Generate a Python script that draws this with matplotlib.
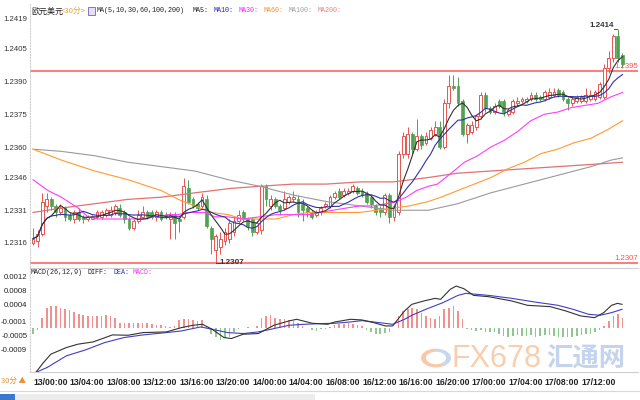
import numpy as np
import pandas as pd
import matplotlib
matplotlib.use("Agg")
import matplotlib.pyplot as plt
from matplotlib.patches import Rectangle, Wedge

plt.rcParams['font.family'] = ['Noto Sans CJK SC', 'DejaVu Sans']

# 30分钟K线 (欧元美元)
opens = [1.2316, 1.2317, 1.2320, 1.2333, 1.2336, 1.2333, 1.2330, 1.2332, 1.2329, 1.2327,
         1.2330, 1.2328, 1.2327, 1.2327, 1.2328, 1.2328, 1.2329, 1.2329, 1.2330, 1.2332,
         1.2330, 1.2327, 1.2323, 1.2326, 1.2328, 1.2330, 1.2330, 1.2328, 1.2330, 1.2329,
         1.2327, 1.2329, 1.2327, 1.2328, 1.2341, 1.2336, 1.2334, 1.2333, 1.2336, 1.2323,
         1.2313, 1.2314, 1.2317, 1.2318, 1.2321, 1.2326, 1.2330, 1.2327, 1.2327, 1.2321,
         1.2322, 1.2342, 1.2333, 1.2336, 1.2333, 1.2332, 1.2335, 1.2336, 1.2336, 1.2334,
         1.2332, 1.2330, 1.2329, 1.2330, 1.2333, 1.2333, 1.2337, 1.2340, 1.2338, 1.2339,
         1.2340, 1.2341, 1.2340, 1.2339, 1.2337, 1.2333, 1.2332, 1.2330, 1.2338, 1.2328,
         1.2330, 1.2357, 1.2357, 1.2366, 1.2359, 1.2365, 1.2362, 1.2364, 1.2366, 1.2369,
         1.2360, 1.2380, 1.2388, 1.2388, 1.2381, 1.2366, 1.2367, 1.2369, 1.2374, 1.2384,
         1.2378, 1.2376, 1.2381, 1.2381, 1.2375, 1.2376, 1.2380, 1.2381, 1.2381, 1.2382,
         1.2384, 1.2383, 1.2382, 1.2383, 1.2384, 1.2386, 1.2385, 1.2382, 1.2380, 1.2381,
         1.2381, 1.2381, 1.2382, 1.2382, 1.2383, 1.2383, 1.2396, 1.2401, 1.2411, 1.2402]
highs = [1.2323, 1.2322, 1.2339, 1.2339, 1.2337, 1.2334, 1.2334, 1.2333, 1.2330, 1.2331,
         1.2332, 1.2329, 1.2329, 1.2329, 1.2331, 1.2331, 1.2332, 1.2333, 1.2334, 1.2334,
         1.2331, 1.2328, 1.2327, 1.2331, 1.2333, 1.2331, 1.2331, 1.2331, 1.2331, 1.2330,
         1.2330, 1.2330, 1.2328, 1.2346, 1.2345, 1.2337, 1.2335, 1.2339, 1.2338, 1.2324,
         1.2320, 1.2321, 1.2323, 1.2327, 1.2328, 1.2331, 1.2331, 1.2328, 1.2328, 1.2326,
         1.2343, 1.2343, 1.2338, 1.2337, 1.2334, 1.2340, 1.2338, 1.2340, 1.2338, 1.2336,
         1.2333, 1.2331, 1.2331, 1.2333, 1.2335, 1.2338, 1.2340, 1.2341, 1.2341, 1.2341,
         1.2343, 1.2342, 1.2341, 1.2340, 1.2338, 1.2334, 1.2333, 1.2339, 1.2339, 1.2334,
         1.2358, 1.2367, 1.2369, 1.2367, 1.2373, 1.2366, 1.2367, 1.2369, 1.2372, 1.2372,
         1.2382, 1.2393, 1.2393, 1.2392, 1.2382, 1.2371, 1.2372, 1.2375, 1.2385, 1.2385,
         1.2379, 1.2380, 1.2382, 1.2382, 1.2378, 1.2382, 1.2383, 1.2383, 1.2383, 1.2385,
         1.2385, 1.2384, 1.2386, 1.2387, 1.2387, 1.2387, 1.2386, 1.2383, 1.2383, 1.2384,
         1.2384, 1.2387, 1.2386, 1.2386, 1.2390, 1.2398, 1.2404, 1.2412, 1.2414, 1.2403]
lows = [1.2315, 1.2314, 1.2319, 1.2330, 1.2331, 1.2328, 1.2329, 1.2326, 1.2326, 1.2325,
        1.2326, 1.2325, 1.2326, 1.2327, 1.2327, 1.2327, 1.2328, 1.2328, 1.2329, 1.2328,
        1.2325, 1.2322, 1.2322, 1.2325, 1.2327, 1.2327, 1.2327, 1.2326, 1.2326, 1.2327,
        1.2318, 1.2318, 1.2321, 1.2327, 1.2334, 1.2332, 1.2331, 1.2332, 1.2323, 1.2311,
        1.2307, 1.2311, 1.2315, 1.2316, 1.2319, 1.2325, 1.2326, 1.2322, 1.2319, 1.2320,
        1.2320, 1.2333, 1.2331, 1.2332, 1.2329, 1.2331, 1.2334, 1.2335, 1.2328, 1.2326,
        1.2328, 1.2327, 1.2328, 1.2329, 1.2332, 1.2332, 1.2336, 1.2336, 1.2337, 1.2338,
        1.2339, 1.2338, 1.2337, 1.2334, 1.2332, 1.2329, 1.2328, 1.2329, 1.2325, 1.2326,
        1.2329, 1.2355, 1.2355, 1.2357, 1.2358, 1.2359, 1.2361, 1.2363, 1.2365, 1.2359,
        1.2359, 1.2378, 1.2386, 1.2379, 1.2365, 1.2362, 1.2366, 1.2368, 1.2373, 1.2376,
        1.2375, 1.2375, 1.2378, 1.2374, 1.2374, 1.2375, 1.2379, 1.2380, 1.2380, 1.2381,
        1.2381, 1.2381, 1.2381, 1.2382, 1.2383, 1.2383, 1.2381, 1.2377, 1.2379, 1.2380,
        1.2380, 1.2380, 1.2381, 1.2381, 1.2382, 1.2382, 1.2394, 1.2399, 1.2399, 1.2396]
closes = [1.2318, 1.2320, 1.2335, 1.2336, 1.2333, 1.2330, 1.2332, 1.2328, 1.2327, 1.2330,
          1.2327, 1.2327, 1.2328, 1.2328, 1.2330, 1.2330, 1.2331, 1.2331, 1.2333, 1.2329,
          1.2327, 1.2323, 1.2326, 1.2329, 1.2330, 1.2328, 1.2328, 1.2330, 1.2327, 1.2328,
          1.2329, 1.2325, 1.2326, 1.2342, 1.2335, 1.2333, 1.2332, 1.2337, 1.2324, 1.2318,
          1.2319, 1.2318, 1.2321, 1.2325, 1.2326, 1.2329, 1.2327, 1.2324, 1.2321, 1.2325,
          1.2342, 1.2336, 1.2336, 1.2333, 1.2331, 1.2336, 1.2337, 1.2337, 1.2330, 1.2331,
          1.2330, 1.2328, 1.2330, 1.2332, 1.2334, 1.2337, 1.2339, 1.2337, 1.2340, 1.2340,
          1.2342, 1.2339, 1.2338, 1.2335, 1.2334, 1.2330, 1.2330, 1.2338, 1.2328, 1.2333,
          1.2357, 1.2365, 1.2366, 1.2359, 1.2365, 1.2361, 1.2365, 1.2368, 1.2369, 1.2360,
          1.2380, 1.2388, 1.2387, 1.2380, 1.2366, 1.2370, 1.2370, 1.2374, 1.2384, 1.2378,
          1.2376, 1.2379, 1.2379, 1.2376, 1.2377, 1.2381, 1.2381, 1.2382, 1.2382, 1.2384,
          1.2382, 1.2382, 1.2385, 1.2385, 1.2385, 1.2384, 1.2382, 1.2380, 1.2382, 1.2383,
          1.2383, 1.2384, 1.2384, 1.2385, 1.2389, 1.2396, 1.2401, 1.2411, 1.2401, 1.2398]

# 长周期均线 (读图所得节点)
ma30_x = [0, 3.3, 6.2, 9.9, 12, 14.2, 17.9, 20.8, 24.5, 26.6, 29.6, 31.8, 33.9, 37.6, 39.8, 42.7,
          45.9, 49.6, 53.2, 56.9, 60.5, 62.8, 65.6, 68.5, 71.5, 74.4, 77.3, 79.5, 81.7, 83.9, 86.5,
          88.5, 91.5, 94.4, 97.3, 100.2, 103.1, 106, 108.9, 111.9, 114.8, 117.7, 120.6, 123.6, 126.5, 129]
ma30_y = [1.2345, 1.2340, 1.2337, 1.2332, 1.2328, 1.2327, 1.2327, 1.2327, 1.2327, 1.2328, 1.2329,
          1.2329, 1.2330, 1.2330, 1.2328, 1.2328, 1.2327, 1.2328, 1.2329, 1.2329, 1.2329, 1.2330,
          1.2331, 1.2332, 1.2333, 1.2333, 1.2334, 1.2335, 1.2337, 1.2340, 1.2342, 1.2343, 1.2348,
          1.2353, 1.2356, 1.2360, 1.2363, 1.2367, 1.2372, 1.2375, 1.2376, 1.2378, 1.2379, 1.2380,
          1.2383, 1.2385]
ma60_x = [0, 6.2, 13.5, 20.8, 28.1, 31.8, 35.4, 39.1, 42.7, 45.9, 49.6, 53.2, 56.9, 60.5, 64.2, 67.8,
          71.5, 75.1, 78.8, 82.4, 86.5, 89.3, 92.9, 96.6, 100.2, 103.9, 107.5, 111.2, 114.8, 118.5,
          122.1, 125.8, 129]
ma60_y = [1.2359, 1.2354, 1.2349, 1.2345, 1.2340, 1.2336, 1.2333, 1.2330, 1.2329, 1.2327, 1.2327,
          1.2327, 1.2329, 1.2330, 1.2330, 1.2330, 1.2330, 1.2331, 1.2332, 1.2333, 1.2335, 1.2337,
          1.2340, 1.2343, 1.2346, 1.2350, 1.2353, 1.2357, 1.2359, 1.2362, 1.2364, 1.2368, 1.2372]
ma100_x = [0, 6.2, 13.5, 20.8, 28.1, 35.4, 42.7, 49.6, 56.9, 64.2, 71.5, 78.8, 86.5, 92.9, 100.2,
           107.5, 114.8, 122.1, 126.5, 129]
ma100_y = [1.2359, 1.2358, 1.2356, 1.2353, 1.2351, 1.2349, 1.2345, 1.2342, 1.2338, 1.2335, 1.2333,
           1.2331, 1.2331, 1.2334, 1.2339, 1.2343, 1.2347, 1.2351, 1.2354, 1.2355]
ma200_x = [0, 6.2, 13.5, 20.8, 28.1, 35.4, 43.2, 49.6, 56.9, 64.2, 71.5, 78.8, 86.5, 92.9, 100.2,
           107.5, 114.8, 122.1, 129]
ma200_y = [1.2330, 1.2332, 1.2334, 1.2336, 1.2337, 1.2339, 1.2341, 1.2342, 1.2343, 1.2343, 1.2344,
           1.2344, 1.2346, 1.2348, 1.2349, 1.2350, 1.2351, 1.2352, 1.2353]

# MACD(26,12,9)
diff_x = [0.6, 2.3, 3.9, 7.3, 9.8, 13.2, 17.4, 20.8, 24.1, 29.2, 32.5, 35, 37.1, 39.2, 41.8, 43.4,
          46, 49.3, 52.7, 56, 57.7, 61.1, 64.5, 66.1, 69.5, 72, 74.5, 77.1, 78.7, 81.3, 82.9, 85.5,
          88, 89.2, 91.3, 92.6, 94.3, 96.4, 99.7, 104.8, 108.2, 113.2, 116.6, 119.9, 122.9, 124.9,
          126.6, 127.9, 128.9]
diff_y = [-0.001543, -0.001260, -0.001023, -0.000834, -0.000739, -0.000673, -0.000474, -0.000484,
          -0.000408, -0.000389, -0.000266, -0.000200, -0.000172, -0.000314, -0.000550, -0.000578,
          -0.000455, -0.000436, -0.000200, -0.000077, -0.000030, -0.000143, -0.000172, -0.000105,
          -0.000030, -0.000049, -0.000124, -0.000219, -0.000219, 0.000207, 0.000396, 0.000491,
          0.000566, 0.000538, 0.000822, 0.000916, 0.000841, 0.000651, 0.000614, 0.000491, 0.000368,
          0.000330, 0.000207, 0.000065, 0.000017, 0.000159, 0.000368, 0.000424, 0.000396]
dea_x = [0.6, 3.1, 7.3, 11.5, 15.7, 19.9, 24.1, 29.2, 32.5, 36.7, 39.2, 42.6, 46, 49.3, 52.7, 56,
         59.4, 62.8, 66.1, 69.5, 72, 74.5, 78.7, 81.3, 82.9, 86.3, 89.7, 93, 94.7, 99.7, 104.8,
         109.8, 114.9, 118.2, 121.6, 124.1, 126.6, 128.9]
dea_y = [-0.001543, -0.001401, -0.001070, -0.000900, -0.000692, -0.000550, -0.000474, -0.000408,
         -0.000361, -0.000247, -0.000314, -0.000408, -0.000436, -0.000389, -0.000295, -0.000200,
         -0.000172, -0.000153, -0.000143, -0.000105, -0.000068, -0.000105, -0.000172, -0.000030,
         0.000084, 0.000273, 0.000443, 0.000651, 0.000708, 0.000651, 0.000566, 0.000462, 0.000368,
         0.000254, 0.000112, 0.000084, 0.000159, 0.000254]
macd_hist = [-1.7, -0.5, 3.0, 5.9, 6.3, 6.3, 5.9, 5.4, 5.1, 4.6,
             4.0, 3.7, 3.5, 3.5, 3.5, 3.5, 3.7, 3.5, 3.0, 1.6,
             1.4, 1.6, 1.6, 1.6, 1.4, 1.4, 1.1, 0.9, 0.9, 0.7,
             0.5, 0.7, 2.4, 2.6, 2.6, 2.3, 2.1, 2.4, 0.7, -1.7,
             -2.6, -3.3, -2.9, -2.4, -1.2, -0.3, 0.2, 0.4, 0.2, 0.7,
             3.0, 3.5, 3.7, 3.0, 2.7, 2.6, 2.4, 2.1, 1.4, 0.7,
             0.1, -0.5, -0.7, -0.3, -0.3, 0.5, 0.9, 1.1, 1.3, 1.4,
             1.1, 0.9, 0.7, -0.5, -1.2, -1.7, -1.7, -1.4, -1.0, 0.2,
             3.5, 4.9, 5.6, 5.9, 5.4, 4.4, 3.5, 3.0, 2.6, 3.5,
             5.4, 5.9, 6.3, 4.9, 2.6, -0.1, -0.5, -0.9, -0.5, -1.0,
             -1.2, -1.2, -1.7, -2.2, -2.4, -2.2, -2.0, -2.2, -2.2, -2.0,
             -2.4, -2.2, -2.0, -2.0, -2.2, -2.4, -2.6, -2.6, -2.4, -2.2,
             -2.0, -1.7, -1.7, -1.2, -0.5, 0.7, 2.1, 3.5, 4.0, 3.0]  # x 1e-4
macd_base = -0.000285  # 柱状图零轴所在位置

time_labels = ['13/00:00', '13/04:00', '13/08:00', '13/12:00', '13/16:00', '13/20:00',
               '14/00:00', '14/04:00', '16/08:00', '16/12:00', '16/16:00', '16/20:00',
               '17/00:00', '17/04:00', '17/08:00', '17/12:00']
price_ticks = [1.2419, 1.2405, 1.2390, 1.2375, 1.2360, 1.2346, 1.2331, 1.2316]
macd_ticks = [0.0012, 0.0008, 0.0004, -0.0001, -0.0005, -0.0009]
last_price = 1.2395
low_price = 1.2307

UP = '#e8534f'
DOWN = '#52a052'
SANS = ['Liberation Sans', 'DejaVu Sans']
MONO = ['Liberation Mono', 'DejaVu Sans Mono']

W, H = 640, 400
fig = plt.figure(figsize=(6.4, 4.0), dpi=100)
ax = fig.add_axes([30 / W, 1 - 267 / H, 608 / W, 264 / H])
ax2 = fig.add_axes([30 / W, 1 - 372 / H, 608 / W, 104 / H])

o = np.array(opens); h = np.array(highs); l = np.array(lows); c = np.array(closes)
x = np.arange(len(c))
up = c >= o
body_lo = np.minimum(o, c)
body_hi = np.maximum(o, c)
body_h = np.maximum(body_hi - body_lo, 0.00002)

# 影线
ax.vlines(x[up], body_hi[up], h[up], color=UP, lw=0.7, zorder=2)
ax.vlines(x[up], l[up], body_lo[up], color=UP, lw=0.7, zorder=2)
ax.vlines(x[~up], l[~up], h[~up], color=DOWN, lw=0.7, zorder=2)
# 实体
ax.bar(x[up], body_h[up], bottom=body_lo[up], width=0.62, facecolor='white',
       edgecolor=UP, linewidth=0.7, zorder=3)
ax.bar(x[~up], body_h[~up], bottom=body_lo[~up], width=0.62, facecolor=DOWN,
       edgecolor=DOWN, linewidth=0.5, zorder=3)

cs = pd.Series(closes)
ma5 = cs.rolling(5, min_periods=1).mean()
ma10 = cs.rolling(10, min_periods=1).mean()
ax.plot(ma200_x, ma200_y, color='#e07272', lw=0.9, zorder=4)
ax.plot(ma100_x, ma100_y, color='#9a9a9a', lw=0.8, zorder=4)
ax.plot(ma60_x, ma60_y, color='#ff9a30', lw=0.8, zorder=4)
ax.plot(ma30_x, ma30_y, color='#ff3cff', lw=0.8, zorder=4)
ax.plot(x, ma10, color='#3030b0', lw=0.8, zorder=5)
ax.plot(x, ma5, color='#333333', lw=0.8, zorder=5)

ax.axhline(last_price, color='#ff7070', lw=1.3, zorder=1)
ax.axhline(low_price, color='#ff7070', lw=1.3, zorder=1)

hi_i = int(np.argmax(h)); lo_i = int(np.argmin(l))
ax.plot([hi_i - 0.9, hi_i - 0.3], [h[hi_i], h[hi_i]], color='#333', lw=0.6)
ax.text(hi_i - 0.9, h[hi_i] + 0.00003, '%.4f' % h[hi_i], ha='right', va='bottom',
        fontsize=5.8, fontweight='bold', color='#333', family=SANS)
ax.plot([lo_i, lo_i + 0.9], [l[lo_i], l[lo_i]], color='#333', lw=0.6, zorder=6)
ax.text(lo_i + 0.9, l[lo_i] + 0.00001, '%.4f' % l[lo_i], ha='left', va='center',
        fontsize=5.8, fontweight='bold', color='#333', zorder=6, family=SANS)

ax.set_xlim(-0.66, 132.4)
ax.set_ylim(1.23050, 1.24260)
ax.set_yticks(price_ticks)
ax.set_yticklabels(['%.4f' % v for v in price_ticks])
ax.set_xticks([])
for s in ['top', 'right', 'bottom']:
    ax.spines[s].set_visible(False)
ax.spines['left'].set_color('#d0d0d0')
ax.spines['left'].set_linestyle(':')
ax.tick_params(axis='y', length=0, pad=2, labelsize=5.6, labelcolor='#333')
for t in ax.get_yticklabels():
    t.set_family(SANS)

# MACD
hv = np.array(macd_hist) * 1e-4
hx = np.arange(len(hv))
ax2.bar(hx, hv, bottom=macd_base, width=0.35,
        color=np.where(hv >= 0, '#f29090', '#8fc88f'), zorder=2)
ax2.plot(dea_x, dea_y, color='#4040c0', lw=0.8, zorder=3)
ax2.plot(diff_x, diff_y, color='#333333', lw=0.8, zorder=3)
ax2.set_xlim(-0.66, 132.4)
ax2.set_ylim(-0.00153, 0.00143)
ax2.set_yticks(macd_ticks)
ax2.set_yticklabels(['%.4f' % v for v in macd_ticks])
ax2.set_xticks(np.arange(0, 8 * len(time_labels), 8))
ax2.set_xticklabels(time_labels, ha='left')
ax2.tick_params(axis='both', length=0, labelsize=5.6, labelcolor='#222')
ax2.tick_params(axis='y', pad=2)
ax2.tick_params(axis='x', pad=4.5)
for t in ax2.get_yticklabels():
    t.set_family(SANS)
for t in ax2.get_xticklabels():
    t.set_family(['Liberation Sans Narrow', 'Liberation Sans', 'DejaVu Sans'])
    t.set_fontsize(6.2)
    t.set_fontweight('bold')
ax2.spines['right'].set_visible(False)
ax2.spines['top'].set_color('#cfcfcf')
ax2.spines['bottom'].set_color('#cfcfcf')
ax2.spines['left'].set_color('#d0d0d0')
ax2.spines['left'].set_linestyle(':')


def ftext(px, py, s, color, size=5.6, **kw):
    fig.text(px / W, 1 - py / H, s, color=color, fontsize=size, va='center', ha='left', **kw)


# 标题行
ftext(31, 11, '欧元美元', '#222222', 5.8)
ftext(61, 11, '<30分>', '#f0a030', 5.6)
fig.patches.append(Rectangle((88 / W, 1 - 15 / H), 7 / W, 8 / H, transform=fig.transFigure,
                             facecolor='#e8e0f8', edgecolor='#7060c0', lw=0.6))
ftext(97, 11, 'MA(5,10,30,60,100,200)', '#222222', 4.9, family=MONO)
ftext(193, 11, 'MA5:', '#222222', 4.9, family=MONO)
ftext(214, 11, 'MA10:', '#2020c0', 4.9, family=MONO)
ftext(239, 11, 'MA30:', '#ff20ff', 4.9, family=MONO)
ftext(264, 11, 'MA60:', '#ff9020', 4.9, family=MONO)
ftext(289, 11, 'MA100:', '#a0a0a0', 4.9, family=MONO)
ftext(318, 11, 'MA200:', '#f08080', 4.9, family=MONO)

ftext(31, 273, 'MACD(26,12,9)', '#222222', 4.9, family=MONO)
ftext(87, 273, 'DIFF:', '#222222', 4.9, family=MONO)
ftext(113, 273, 'DEA:', '#3030c0', 4.9, family=MONO)
ftext(133, 273, 'MACD:', '#ff30ff', 4.9, family=MONO)

# 右侧价格标签
fig.text(638 / W, 1 - 66 / H, '%.4f' % last_price, color='#ff5050', fontsize=5.6,
         ha='right', va='center', family=SANS)
fig.text(638 / W, 1 - 258 / H, '%.4f' % low_price, color='#ff5050', fontsize=5.6,
         ha='right', va='center', family=SANS)

# 左下角周期
fig.text(1 / W, 1 - 381 / H, '30分 ▲', color='#e89030', fontsize=5.4, ha='left', va='center')
fig.add_artist(plt.Line2D([0, 1], [1 - 391 / H, 1 - 391 / H], color='#d8d8d8', lw=0.8))
fig.patches.append(Rectangle((0, 0), 15 / W, 6 / H, transform=fig.transFigure,
                             facecolor='#3a78d0', edgecolor='none'))
fig.patches.append(Rectangle((15 / W, 0), 300 / W, 6 / H, transform=fig.transFigure,
                             facecolor='#ececec', edgecolor='none'))

# 水印
fig.patches.append(Wedge((436 / W, 1 - 358 / H), 15 / W, 90, 300, width=5 / W,
                         transform=fig.transFigure, facecolor='#f7c9a8', edgecolor='none'))
fig.patches.append(Wedge((436 / W, 1 - 358 / H), 15 / W, 300, 450, width=5 / W,
                         transform=fig.transFigure, facecolor='#c9d6ee', edgecolor='none'))
fig.text(452 / W, 1 - 359 / H, 'FX678', color='#f8cfae', fontsize=22, ha='left', va='center',
         family=SANS)
fig.text(546 / W, 1 - 359 / H, '汇通网', color='#c5d3ec', fontsize=19, ha='left', va='center',
         fontweight='bold')

fig.savefig('out.png', dpi=100)
